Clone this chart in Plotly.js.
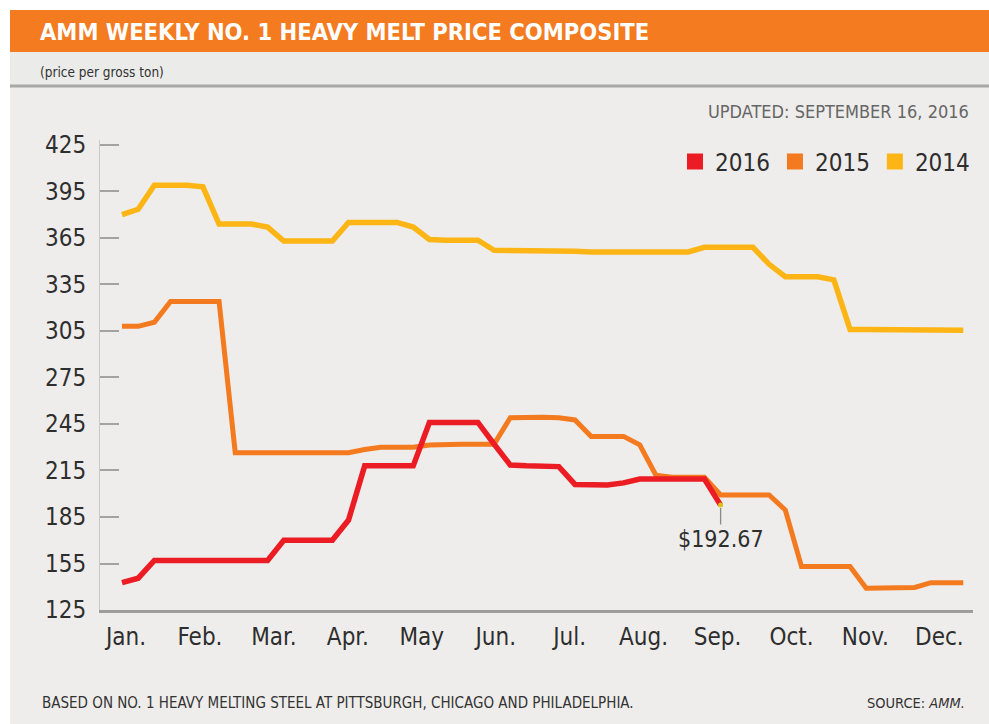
<!DOCTYPE html>
<html>
<head>
<meta charset="utf-8">
<script src="https://cdn.plot.ly/plotly-3.0.1.min.js"></script>
<style>
  html, body { margin: 0; padding: 0; background: #ffffff; }
  #chart { width: 989px; height: 724px; }
</style>
</head>
<body>
<div id="chart"></div>
<script>
// ---- Data ----
const weeks = [1,2,3,4,5,6,7,8,9,10,11,12,13,14,15,16,17,18,19,20,21,22,23,24,25,26,27,
               28,29,30,31,32,33,34,35,36,37,38,39,40,41,42,43,44,45,46,47,48,49,50,51,52,53];

const monthLabels = ["Jan.","Feb.","Mar.","Apr.","May","Jun.","Jul.","Aug.","Sep.","Oct.","Nov.","Dec."];

const yTicks = [125,155,185,215,245,275,305,335,365,395,425];

const price2014 = [380, 383.5, 399, 399, 399, 398, 374, 374, 374, 372,
                   363, 363, 363, 363, 375, 375, 375, 375, 372, 364,
                   363.5, 363.5, 363.5, 357, 357, 357, 357, 357, 356.5, 356,
                   356, 356, 356, 356, 356, 356, 359, 359, 359, 359,
                   348, 340, 340, 340, 338, 306, 306, 306, 306, 305.5,
                   305.5, 305.5, 305.5];

const price2015 = [308, 308, 310.6, 324, 324, 324, 324, 226.5, 226.5, 226.5,
                   226.5, 226.5, 226.5, 226.5, 226.5, 228.5, 230, 230, 230, 231.5,
                   232, 232, 232, 232, 249, 249.3, 249.3, 249, 247.6, 237,
                   237, 237, 231.5, 212, 210.6, 210.6, 210.6, 199.2, 199.2, 199.2,
                   199.2, 189.5, 153, 153, 153, 153, 139, 139, 139, 139.5,
                   142.6, 142.6, 142.6];

const price2016 = [142.6, 145.5, 157, 157, 157, 157, 157, 157, 157, 157,
                   170, 170, 170, 170, 183, 218, 218, 218, 218, 246,
                   246, 246, 246, 232, 218.5, 218, 218, 217.5, 206, 205.6,
                   205.6, 207, 209.5, 209.5, 209.5, 209.5, 209.5, 192.67];

const seriesNames = ["2016", "2015", "2014"];

// ---- Styling ----
const C2016 = "#ec1c24", C2015 = "#f47a1f", C2014 = "#fdb515";
const NARROW = "'Liberation Sans Narrow', 'DejaVu Sans Condensed', 'Arial Narrow', 'Liberation Sans', sans-serif";
const W = 989, H = 724;
const M = {l: 100, r: 16, t: 140, b: 114};
const PW = W - M.l - M.r, PH = H - M.t - M.b;
const px2x = p => (p - M.l) / PW;
const px2y = p => (H - M.b - p) / PH;

const weeks2016 = weeks.slice(0, price2016.length);

const traces = [
  {x: weeks, y: price2014, mode: "lines", line: {color: C2014, width: 5.5}, showlegend: false, hoverinfo: "skip"},
  {x: weeks, y: price2015, mode: "lines", line: {color: C2015, width: 5}, showlegend: false, hoverinfo: "skip"},
  {x: weeks2016, y: price2016, mode: "lines", line: {color: C2016, width: 5.5}, showlegend: false, hoverinfo: "skip"},
  {x: weeks2016.slice(-1), y: price2016.slice(-1), mode: "markers",
   marker: {color: "#d9c21a", size: 5}, showlegend: false, hoverinfo: "skip"},
  // legend entries
  {x: [null], y: [null], mode: "markers", name: seriesNames[0], marker: {symbol: "square", size: 16, color: C2016}},
  {x: [null], y: [null], mode: "markers", name: seriesNames[1], marker: {symbol: "square", size: 16, color: C2015}},
  {x: [null], y: [null], mode: "markers", name: seriesNames[2], marker: {symbol: "square", size: 16, color: C2014}}
];

const layout = {
  width: W, height: H,
  margin: {l: M.l, r: M.r, t: M.t, b: M.b, pad: 0},
  paper_bgcolor: "#ffffff",
  plot_bgcolor: "rgba(0,0,0,0)",
  font: {family: NARROW, color: "#333333"},
  title: {
    text: "<b>AMM WEEKLY NO. 1 HEAVY MELT PRICE COMPOSITE</b>",
    font: {family: NARROW, size: 23.5, color: "#ffffff"},
    xref: "container", yref: "container",
    x: 40 / W, xanchor: "left",
    y: 1 - 32 / H, yanchor: "middle"
  },
  xaxis: {
    range: [-0.36, 53.6],
    tickmode: "array",
    tickvals: monthLabels.map((_, i) => 1.25 + i * 4.57),
    ticktext: monthLabels,
    ticks: "",
    showgrid: false, zeroline: false,
    showline: true, linecolor: "#9d9d9d", linewidth: 3,
    tickfont: {family: NARROW, size: 24, color: "#2e2e2e"},
    ticklabelstandoff: 3,
    fixedrange: true
  },
  yaxis: {
    range: [125, 428.2],
    tickmode: "array",
    tickvals: yTicks,
    ticktext: yTicks.map(String),
    ticks: "inside", ticklen: 19, tickwidth: 2, tickcolor: "#a3a3a3",
    showgrid: false, zeroline: false,
    showline: true, linecolor: "#c9c9c9", linewidth: 1,
    tickfont: {family: NARROW, size: 24, color: "#2e2e2e"},
    ticklabelstandoff: 8,
    fixedrange: true
  },
  legend: {
    orientation: "h",
    x: px2x(975), xanchor: "right",
    y: px2y(162), yanchor: "middle",
    font: {family: NARROW, size: 24, color: "#2e2e2e"},
    bgcolor: "rgba(0,0,0,0)",
    itemwidth: 30,
    traceorder: "normal"
  },
  shapes: [
    {type: "rect", xref: "paper", yref: "paper", layer: "below",
     x0: px2x(10), x1: px2x(989), y0: px2y(724), y1: px2y(52),
     fillcolor: "#eeedeb", line: {width: 0}},
    {type: "rect", xref: "paper", yref: "paper", layer: "below",
     x0: px2x(10), x1: px2x(989), y0: px2y(85), y1: px2y(52),
     fillcolor: "#ebebea", line: {width: 0}},
    {type: "rect", xref: "paper", yref: "paper", layer: "below",
     x0: px2x(10), x1: px2x(989), y0: px2y(52), y1: px2y(10),
     fillcolor: "#f47b20", line: {width: 0}},
    {type: "line", xref: "paper", yref: "paper", layer: "below",
     x0: px2x(10), x1: px2x(989), y0: px2y(86), y1: px2y(86),
     line: {color: "#a8a8a8", width: 3}}
  ],
  annotations: [
    {xref: "paper", yref: "paper", x: px2x(38), y: px2y(72), xanchor: "left", yanchor: "middle",
     text: "(price per gross ton)", showarrow: false,
     font: {family: NARROW, size: 13.5, color: "#333333"}},
    {xref: "paper", yref: "paper", x: px2x(971), y: px2y(112), xanchor: "right", yanchor: "middle",
     text: "UPDATED: SEPTEMBER 16, 2016", showarrow: false,
     font: {family: NARROW, size: 18, color: "#666666"}},
    {xref: "paper", yref: "paper", x: px2x(40), y: px2y(703), xanchor: "left", yanchor: "middle",
     text: "BASED ON NO. 1 HEAVY MELTING STEEL AT PITTSBURGH, CHICAGO AND PHILADELPHIA.", showarrow: false,
     font: {family: NARROW, size: 15, color: "#333333"}},
    {xref: "paper", yref: "paper", x: px2x(967), y: px2y(703), xanchor: "right", yanchor: "middle",
     text: "SOURCE: <i>AMM.</i>", showarrow: false,
     font: {family: NARROW, size: 14.5, color: "#333333"}},
    {xref: "x", yref: "y", x: weeks2016[weeks2016.length - 1], y: price2016[price2016.length - 1],
     text: "$" + price2016[price2016.length - 1].toFixed(2),
     showarrow: true, arrowhead: 0, arrowwidth: 1.3, arrowcolor: "#8a8a8a",
     ax: 0, ay: 34, standoff: 3,
     font: {family: NARROW, size: 23, color: "#2e2e2e"}}
  ]
};

Plotly.newPlot("chart", traces, layout, {displayModeBar: false, staticPlot: true});
</script>
</body>
</html>
